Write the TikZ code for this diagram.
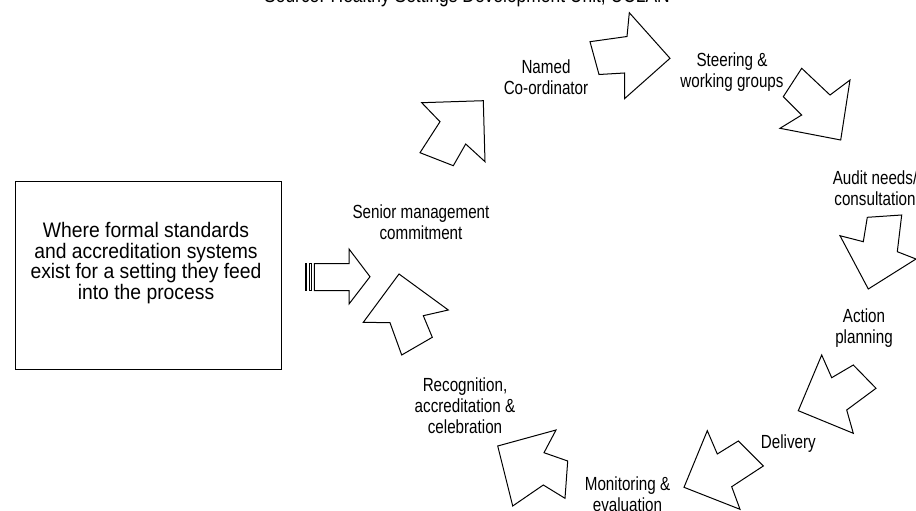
\documentclass[tikz,border=0pt]{standalone}
\usepackage{fontspec}
\setmainfont{Liberation Sans}
\newfontfamily\labfont[FakeStretch=0.8]{Liberation Sans}
\newfontfamily\titlefont[FakeStretch=0.83]{Liberation Sans}
\newfontfamily\boxfont[FakeStretch=0.92]{Liberation Sans}
\begin{document}
\begin{tikzpicture}[x=1pt,y=-1pt,
  blockarrow/.style={draw=black, line width=1pt, line join=miter, fill=white},
  lbl/.style={font=\labfont\fontsize{19}{21}\selectfont, align=center, inner sep=0pt},
  boxtext/.style={font=\boxfont\fontsize{21}{20.5}\selectfont, align=center, inner sep=0pt}]
\useasboundingbox (0,0) rectangle (916,511);
\fill[white] (0,0) rectangle (916,511);

% title (partly cut at the top)
\node[font=\titlefont\fontsize{21}{22}\selectfont, anchor=base, inner sep=0pt] (title) at (467,2.7) {Source: Healthy Settings Development Unit, UCLAN};

% left box
\node[draw=black, line width=1pt, minimum width=266pt, minimum height=188pt, inner sep=0pt] (box) at (148,275.5) {};
\node[boxtext] (boxtxt) at (146,263) {Where formal standards\\and accreditation systems\\exist for a setting they feed\\into the process};

% striped feed arrow
\draw[blockarrow] (305,263.5) rectangle (306.7,290.5);
\draw[blockarrow] (309.3,263.5) rectangle (311.7,290.5);
\draw[blockarrow] (314.3,263.5) -- (349,263.5) -- (349,249) -- (370,276.7) -- (349,304) -- (349,290.5) -- (314.3,290.5) -- cycle;

% cycle arrows
% Senior management -> NE
\draw[blockarrow] (421.7,102.7) -- (483.3,100.7) -- (485,161.7) -- (465.7,144) -- (453.3,165.7) -- (420,152.7) -- (440,121.7) -- cycle;
% Named Co-ordinator -> E
\draw[blockarrow] (590,41.7) -- (627,36.5) -- (629.3,12.7) -- (670,58.3) -- (624.5,98.7) -- (624.5,73) -- (599,74.5) -- cycle;
% Steering -> SE
\draw[blockarrow] (801.7,68.3) -- (830,95) -- (850,80) -- (840.7,140) -- (780,128.3) -- (801.7,115) -- (783.3,96.7) -- cycle;
% Audit -> S
\draw[blockarrow] (867.3,217.3) -- (901.7,215) -- (897.3,251.7) -- (916,259) -- (868.3,289) -- (840,235.7) -- (863.3,241.7) -- cycle;
% Action planning -> SW
\draw[blockarrow] (821.7,355) -- (831.7,377.7) -- (853.3,365) -- (876,388.3) -- (846.7,410) -- (853.3,433.3) -- (798.3,410.7) -- cycle;
% Delivery -> SW
\draw[blockarrow] (707.3,430.7) -- (717.3,454) -- (738.3,441) -- (763.3,466) -- (731.7,486.7) -- (740,509.3) -- (684,487.3) -- cycle;
% Monitoring -> NW
\draw[blockarrow] (497.7,446) -- (556,430) -- (544,452.7) -- (567.7,461) -- (565,498.3) -- (543.3,485) -- (512.7,506) -- cycle;
% Recognition -> N
\draw[blockarrow] (399,274) -- (448.3,310) -- (423.3,315.7) -- (432.3,337.3) -- (401.7,355) -- (390,322.7) -- (363.3,322.3) -- cycle;

% labels
\node[lbl] (senior) at (421,222.5) {Senior management\\commitment};
\node[lbl] (named) at (546,77) {Named\\Co-ordinator};
\node[lbl] (steering) at (732,72) {Steering \&\\working groups};
\node[lbl] (audit) at (875,188) {Audit needs/\\consultation};
\node[lbl] (action) at (864,328) {Action\\planning};
\node[lbl] (delivery) at (788.3,443.3) {Delivery};
\node[lbl] (monitor) at (627.5,494) {Monitoring \&\\evaluation};
\node[lbl] (recog) at (465,406) {Recognition,\\accreditation \&\\celebration};
\end{tikzpicture}
\end{document}
